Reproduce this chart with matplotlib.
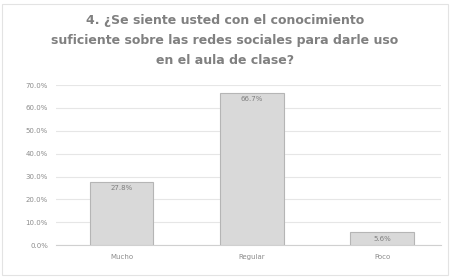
import matplotlib.pyplot as plt
import numpy as np
from matplotlib.ticker import PercentFormatter
from matplotlib.patches import Rectangle

categories = ["Mucho", "Regular", "Poco"]
values = [27.8, 66.7, 5.6]
yticks = [0, 10, 20, 30, 40, 50, 60, 70]

fig = plt.figure(figsize=(4.5, 2.78), dpi=100)
ax = fig.add_axes([0.125, 0.118, 0.855, 0.576])

# light chart frame
fig.patches.append(Rectangle((0.005, 0.01), 0.99, 0.975, transform=fig.transFigure,
                             fill=False, edgecolor="#e3e3e3", linewidth=0.8))

x = np.arange(len(categories))
bars = ax.bar(x, values, width=0.49, color="#d9d9d9", edgecolor="#b5b5b5", linewidth=0.8, zorder=3)
for b, v in zip(bars, values):
    ax.text(b.get_x() + b.get_width() / 2, v - 1.5, f"{v:.1f}%", ha="center", va="top",
            fontsize=5, color="#7f7f7f", zorder=4)

ax.set_ylim(0, 70)
ax.set_xlim(-0.5, 2.45)
ax.set_yticks(yticks)
ax.yaxis.set_major_formatter(PercentFormatter(decimals=1))
ax.set_xticks(x)
ax.set_xticklabels(categories)
ax.tick_params(axis="both", length=0, labelsize=5, colors="#8c8c8c", pad=6)
ax.grid(axis="y", color="#e6e6e6", linewidth=0.8, zorder=0)
for s in ["top", "right", "left"]:
    ax.spines[s].set_visible(False)
ax.spines["bottom"].set_color("#d0d0d0")

fig.text(0.5, 0.855, "4. ¿Se siente usted con el conocimiento\nsuficiente sobre las redes sociales para darle uso\nen el aula de clase?",
         ha="center", va="center", fontsize=9, fontweight="bold", color="#808080", linespacing=1.7)

fig.savefig("out.png", dpi=100)
